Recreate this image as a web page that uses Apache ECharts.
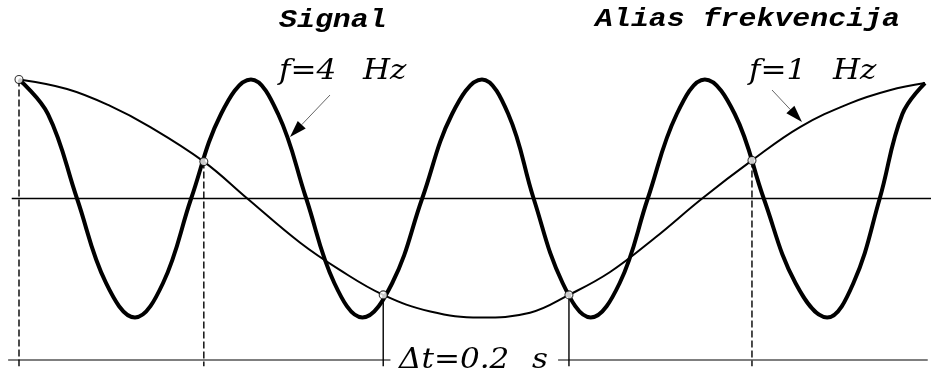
<!DOCTYPE html>
<html>
<head>
<meta charset="utf-8">
<title>Alias frekvencija</title>
<script src="https://cdn.jsdelivr.net/npm/echarts@6/dist/echarts.min.js"></script>
<style>
  html, body { margin: 0; padding: 0; background: #fff; }
  #chart { width: 931px; height: 374px; }
</style>
</head>
<body>
<div id="chart"></div>
<script>
// signal f=4 Hz (thick curve), time in s, amplitude normalized
const signalT = [0, 0.032, 0.064, 0.096, 0.128, 0.159, 0.190, 0.223, 0.256, 0.286, 0.317, 0.348, 0.379,
  0.412, 0.445, 0.478, 0.511, 0.540, 0.568, 0.600, 0.631, 0.663, 0.694, 0.726, 0.757, 0.790,
  0.822, 0.857, 0.892, 0.921, 0.950, 0.975, 1.0]
const signalV = [1.0, 0.71, 0, -0.71, -1.0, -0.71, 0, 0.71, 1.0, 0.71, 0, -0.71, -1.0,
  -0.71, 0, 0.71, 1.0, 0.71, 0, -0.71, -1.0, -0.71, 0, 0.71, 1.0, 0.71,
  0, -0.71, -1.0, -0.71, 0, 0.71, 0.97]

// alias f=1 Hz (thin curve)
const aliasT = [0, 0.053, 0.100, 0.145, 0.204, 0.252, 0.310, 0.354, 0.402, 0.454, 0.509, 0.564, 0.607,
  0.652, 0.702, 0.754, 0.809, 0.862, 0.917, 0.961, 1.0]
const aliasV = [1.0, 0.92, 0.78, 0.60, 0.31, 0, -0.37, -0.60, -0.81, -0.95, -1.0, -0.96, -0.81,
  -0.62, -0.33, 0, 0.32, 0.60, 0.80, 0.91, 0.97]

// sampling points, dt = 0.2 s
const sampleT = [0, 0.204, 0.402, 0.607, 0.809]
const sampleV = [1.0, 0.31, -0.81, -0.81, 0.32]
const sampleDashed = [true, true, false, false, true]

const baseLevel = -1.357 // dimension line under the plot
const tickLevel = -1.41

const zip = (xs, ys) => xs.map((x, i) => [x, ys[i]])

const chart = echarts.init(document.getElementById('chart'))

const plain = (data, width, type) => ({
  type: 'line',
  data: data,
  symbol: 'none',
  silent: true,
  clip: false,
  lineStyle: { color: '#000', width: width, type: type || 'solid' }
})

const verticals = sampleT.map((t, i) =>
  plain([[t, sampleV[i]], [t, tickLevel]], 1.4, sampleDashed[i] ? [7, 3] : 'solid'))

// arrow: thin grey shaft + black filled head
function arrow(x1, y1, x2, y2) {
  const len = Math.hypot(x2 - x1, y2 - y1)
  const dx = (x2 - x1) / len
  const dy = (y2 - y1) / len
  const hl = 17
  const hw = 5.5
  const bx = x2 - dx * hl
  const by = y2 - dy * hl
  return [
    { type: 'line', shape: { x1: x1, y1: y1, x2: bx, y2: by }, style: { stroke: '#666', lineWidth: 1 } },
    {
      type: 'polygon',
      shape: { points: [[x2, y2], [bx - dy * hw, by + dx * hw], [bx + dy * hw, by - dx * hw]] },
      style: { fill: '#000' }
    }
  ]
}

function label(text, x, y, font) {
  return {
    type: 'text',
    x: x,
    y: y,
    scaleX: 1.15,
    style: { text: text, x: 0, y: 0, font: font, fill: '#000', textAlign: 'left', textVerticalAlign: 'middle' }
  }
}

const monoFont = 'italic bold 26px "Liberation Mono"'
const serifFont = 'italic 27px "DejaVu Serif"'

chart.setOption({
  animation: false,
  backgroundColor: '#fff',
  grid: { left: 0.88, right: 0, top: 55.7, bottom: 2.95 },
  xAxis: { type: 'value', min: -0.02, max: 1.0066, show: false },
  yAxis: { type: 'value', min: -1.45, max: 1.2, show: false },
  series: [
    plain([[-0.008, 0], [1.0066, 0]], 1.5),
    plain([[-0.012, baseLevel], [0.41, baseLevel]], 1.2),
    plain([[0.595, baseLevel], [1.003, baseLevel]], 1.2),
    ...verticals,
    {
      name: 'Alias',
      type: 'line',
      data: zip(aliasT, aliasV),
      smooth: 0.4,
      symbol: 'none',
      clip: false,
      lineStyle: { color: '#000', width: 2 }
    },
    {
      name: 'Signal',
      type: 'line',
      data: zip(signalT, signalV),
      smooth: 0.4,
      symbol: 'none',
      clip: false,
      lineStyle: { color: '#000', width: 4, join: 'round' }
    },
    {
      type: 'scatter',
      data: zip(sampleT, sampleV),
      symbol: 'circle',
      symbolSize: 8,
      z: 10,
      itemStyle: { color: '#fff', borderColor: '#000', borderWidth: 1.1 }
    }
  ],
  graphic: [
    label('Signal', 279, 20, monoFont),
    label('Alias frekvencija', 595, 19.5, monoFont),
    label('f=4', 279, 72, serifFont),
    label('Hz', 363, 72, serifFont),
    label('f=1', 749, 72, serifFont),
    label('Hz', 833, 72, serifFont),
    label('Δt=0.2', 399, 361, serifFont),
    label('s', 532, 361, serifFont),
    ...arrow(330, 95, 290, 137),
    ...arrow(772, 90, 802, 122)
  ]
})
</script>
</body>
</html>
